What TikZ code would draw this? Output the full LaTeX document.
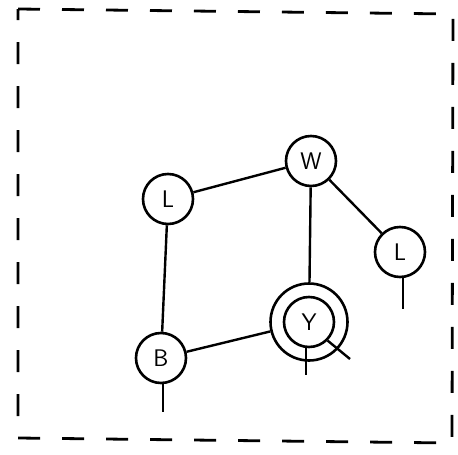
\documentclass[tikz,border=0pt]{standalone}
\usetikzlibrary{arrows.meta}
\begin{document}
\begin{tikzpicture}[x=1pt,y=-1pt,
  vtx/.style={draw, circle, line width=2.6pt, minimum size=50pt, inner sep=0pt, font=\fontsize{24}{28}\selectfont\sffamily},
  ring/.style={draw, circle, line width=2.6pt, minimum size=77pt, inner sep=0pt},
  link/.style={line width=2.4pt}]
\useasboundingbox (0,0) rectangle (458,455);
% frame
\draw[line width=2.8pt, dash pattern=on 22pt off 22pt] (18,9) -- (453,14) -- (452,443) -- (18,438) -- cycle;
% vertices
\node[vtx] (l1) at (168,199) {L};
\node[vtx] (w) at (311,161) {W};
\node[vtx] (l2) at (400,252) {L};
\node[vtx] (y) at (309,322) {Y};
\node[ring] (yo) at (309,322) {};
\node[vtx] (b) at (161,358) {B};
% free ends
\coordinate (l2end) at (403,309);
\coordinate (bend) at (163,412);
\coordinate (yend) at (306,375);
\coordinate (ydiag) at (350,359);
% links
\draw[link] (l1) -- (w);
\draw[link] (w) -- (l2);
\draw[link] (w) -- (yo);
\draw[link] (l1) -- (b);
\draw[link] (b) -- (yo);
\draw[link] (l2.south) ++(3,0) -- (l2end);
\draw[link] (b.south) ++(2,0) -- (bend);
\draw[link] (y.south) ++(-3,0) -- (yend);
\draw[link] (y.-45) -- (ydiag);
\end{tikzpicture}
\end{document}
